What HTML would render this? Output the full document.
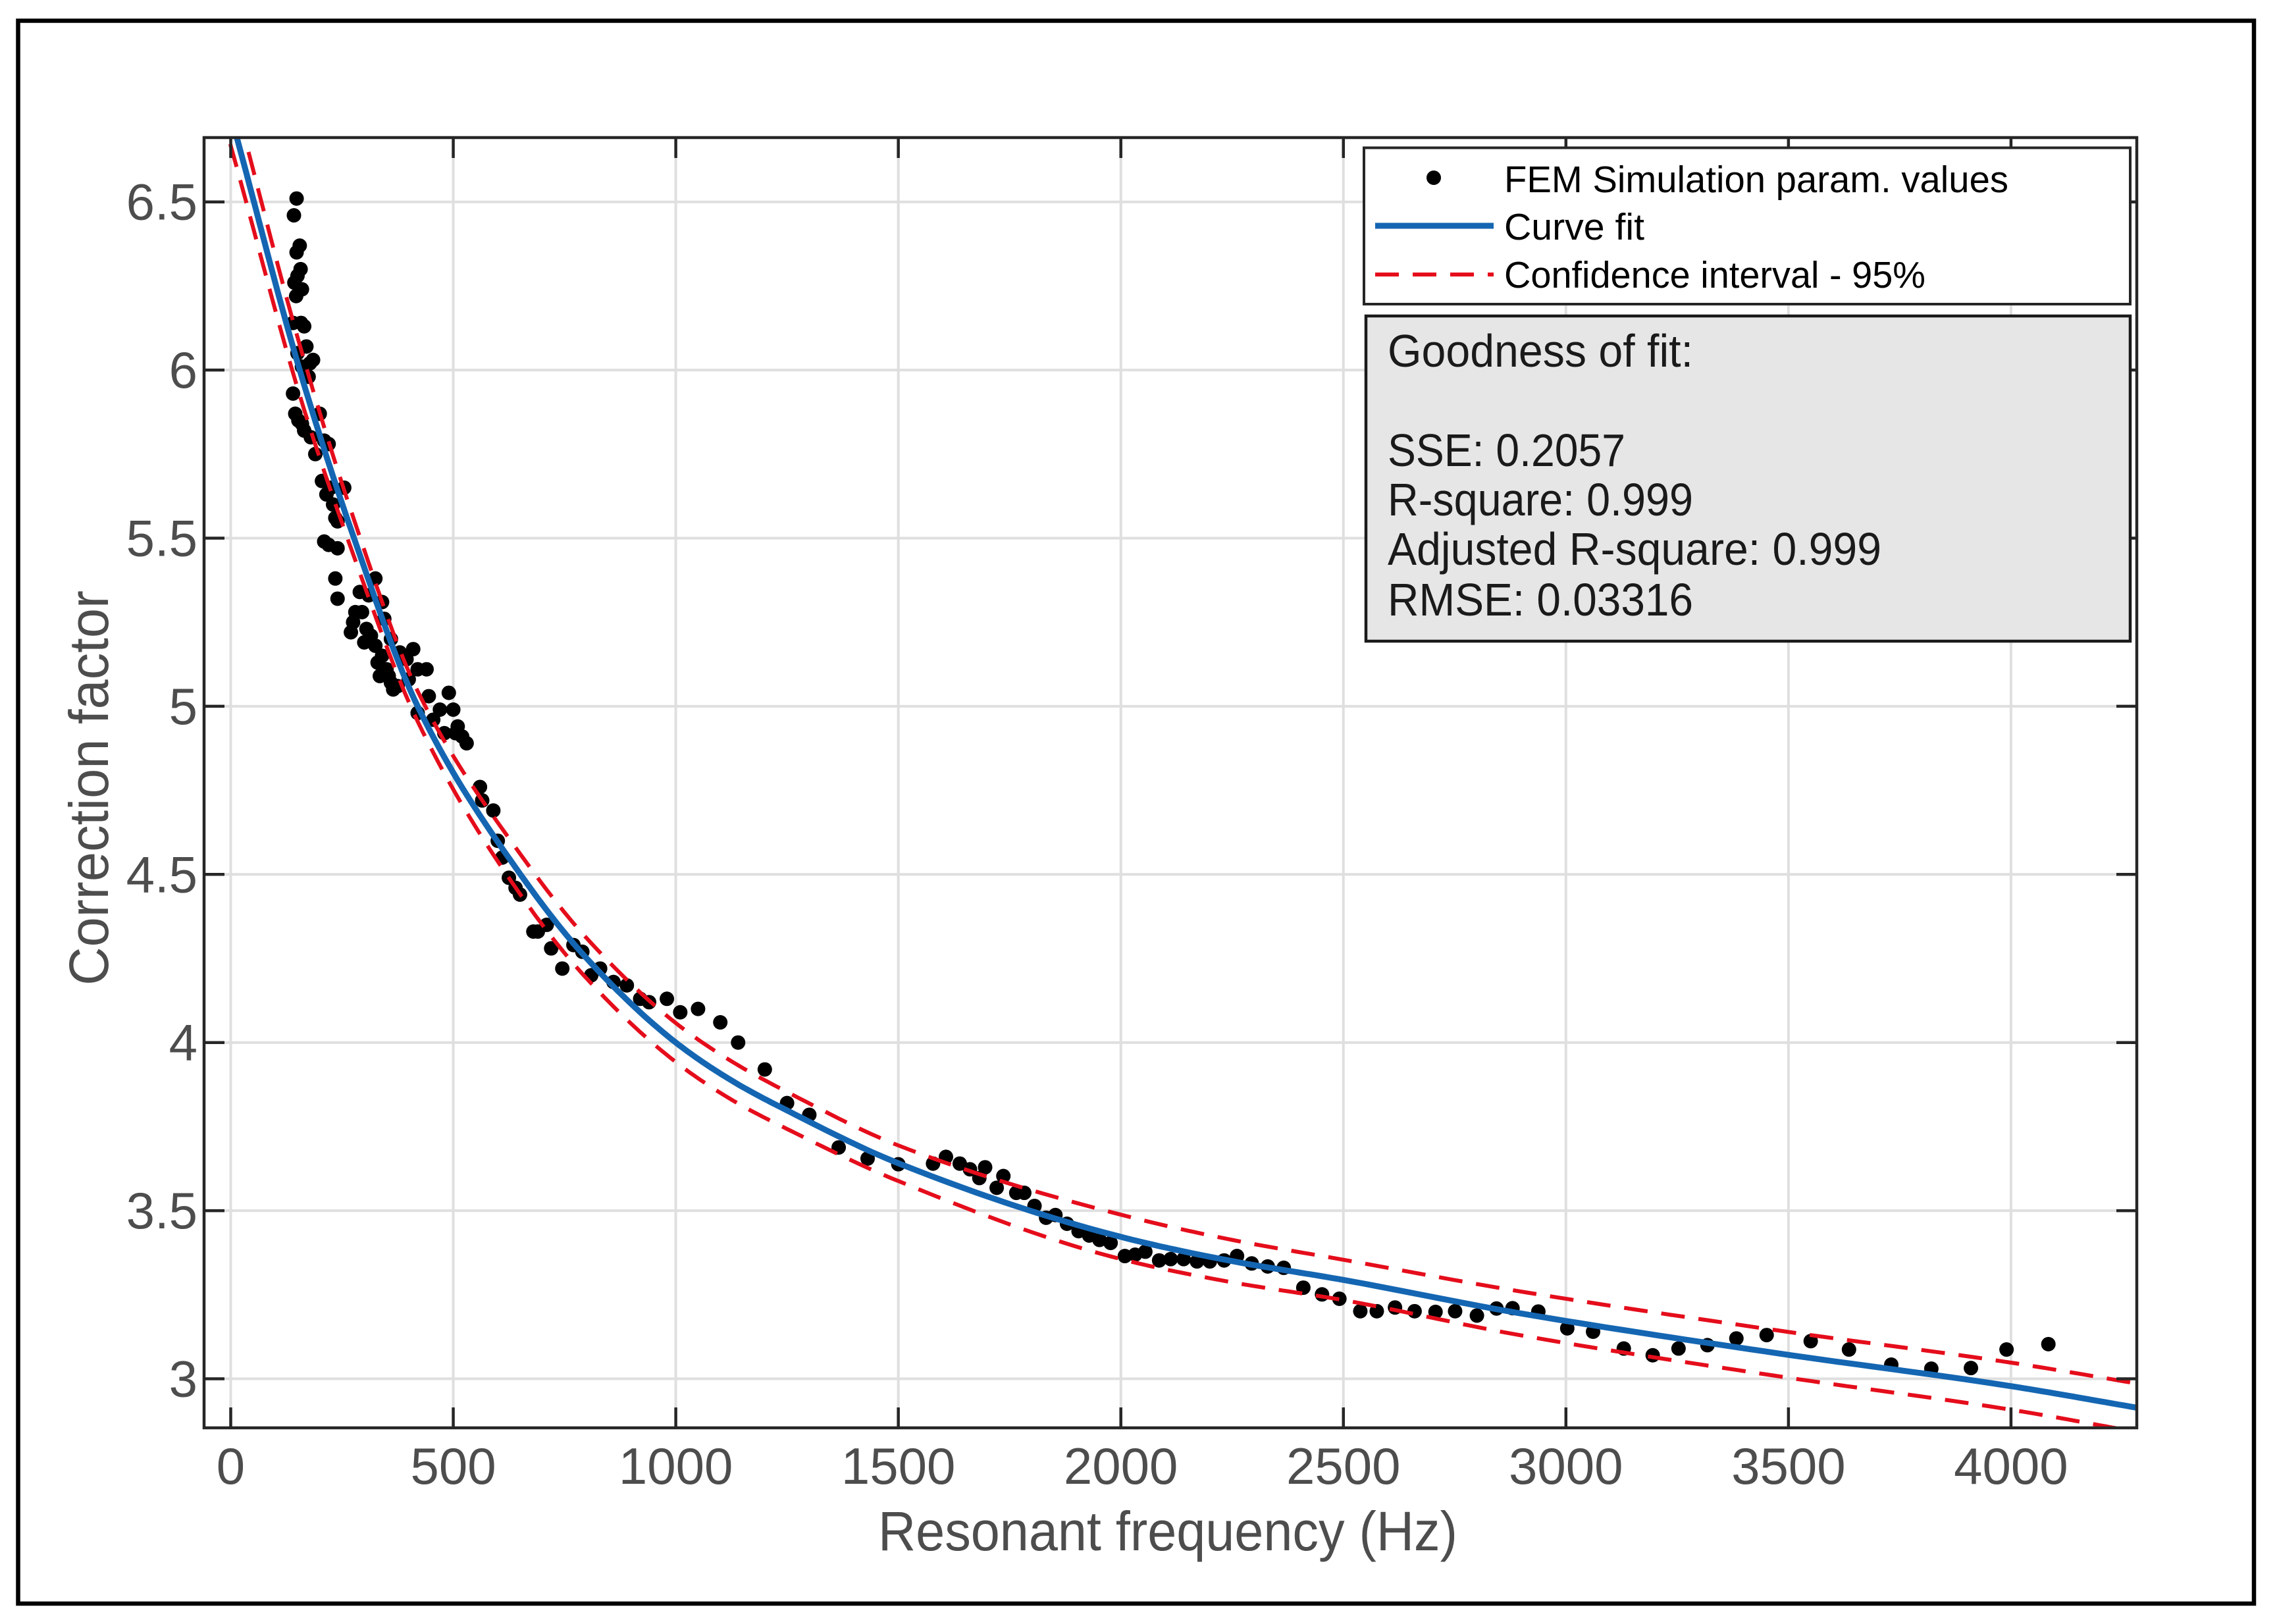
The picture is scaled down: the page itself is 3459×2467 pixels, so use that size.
<!DOCTYPE html>
<html><head><meta charset="utf-8"><style>
html,body{margin:0;padding:0;background:#fff;}
svg{display:block;font-family:"Liberation Sans",sans-serif;}
</style></head>
<body>
<svg id="chart" width="3459" height="2467" viewBox="0 0 3459 2467" xmlns="http://www.w3.org/2000/svg">
<rect x="0" y="0" width="3459" height="2467" fill="#fff"/>
<rect x="27.5" y="31.5" width="3396.5" height="2404.5" fill="none" stroke="#000" stroke-width="6.5"/>
<defs><clipPath id="plotclip"><rect x="310" y="209" width="2936" height="1960"/></clipPath></defs>
<g id="grid"></g>
<g id="series" clip-path="url(#plotclip)"></g>
<rect x="310" y="209" width="2936" height="1960" fill="none" stroke="#262626" stroke-width="4.5"/>
<g id="ticks"></g>
<text x="1774" y="2355" font-size="84" fill="#4d4d4d" text-anchor="middle" textLength="880" lengthAdjust="spacingAndGlyphs">Resonant frequency (Hz)</text>
<text x="0" y="0" font-size="84" fill="#4d4d4d" text-anchor="middle" transform="translate(164,1197) rotate(-90)" textLength="600" lengthAdjust="spacingAndGlyphs">Correction factor</text>
<g>
<rect x="2072" y="224.5" width="1164" height="237.5" fill="#fff" stroke="#262626" stroke-width="4"/>
<circle cx="2178" cy="270" r="11" fill="#000"/>
<text x="2285" y="292" font-size="57" fill="#000" textLength="766" lengthAdjust="spacingAndGlyphs">FEM Simulation param. values</text>
<line x1="2089" y1="343" x2="2269" y2="343" stroke="#1466b2" stroke-width="9"/>
<text x="2285" y="364" font-size="57" fill="#000" textLength="213" lengthAdjust="spacingAndGlyphs">Curve fit</text>
<line x1="2089" y1="417" x2="2269" y2="417" stroke="#e50d1b" stroke-width="6" stroke-dasharray="36,21"/>
<text x="2285" y="437" font-size="57" fill="#000" textLength="640" lengthAdjust="spacingAndGlyphs">Confidence interval - 95%</text>
</g>
<g>
<rect x="2075" y="480" width="1161" height="494" fill="#e6e6e6" stroke="#1a1a1a" stroke-width="4.5"/>
<text x="2108" y="557" font-size="70" fill="#1a1a1a" textLength="464" lengthAdjust="spacingAndGlyphs">Goodness of fit:</text>
<text x="2108" y="708" font-size="70" fill="#1a1a1a" textLength="361" lengthAdjust="spacingAndGlyphs">SSE: 0.2057</text>
<text x="2108" y="783" font-size="70" fill="#1a1a1a" textLength="464" lengthAdjust="spacingAndGlyphs">R-square: 0.999</text>
<text x="2108" y="858" font-size="70" fill="#1a1a1a" textLength="750" lengthAdjust="spacingAndGlyphs">Adjusted R-square: 0.999</text>
<text x="2108" y="935" font-size="70" fill="#1a1a1a" textLength="464" lengthAdjust="spacingAndGlyphs">RMSE: 0.03316</text>
</g>
</svg>
<script>
const xTicks = [0,500,1000,1500,2000,2500,3000,3500,4000];
const yTicks = [3,3.5,4,4.5,5,5.5,6,6.5];
const yTickLabels = ["3","3.5","4","4.5","5","5.5","6","6.5"];
const fitX = [14,155,277,420,651,800,1000,1128,1256,1500,2000,2250,2500,2883,3475,4000,4283];
const fitY = [6.69,6.0,5.5,5.0,4.5,4.25,4.0,3.885,3.794,3.641,3.422,3.35,3.294,3.198,3.076,2.978,2.914];
const ciUpper = [6.78,6.075,5.555,5.045,4.56,4.31,4.058,3.942,3.849,3.694,3.488,3.413,3.354,3.263,3.144,3.048,2.986];
const ciLower = [6.60,5.925,5.445,4.955,4.44,4.19,3.942,3.828,3.739,3.588,3.356,3.287,3.234,3.133,3.008,2.908,2.842];
const ptX = [148,142,148,155,143,150,157,147,160,140,158,165,150,170,178,185,160,175,140,145,152,160,165,180,190,200,210,220,205,215,225,230,235,240,255,210,220,240,235,240,270,275,280,290,295,305,300,315,325,330,335,340,350,355,360,365,375,310,325,340,345,360,380,395,410,420,400,440,420,445,455,470,480,490,500,510,520,530,505,
560,565,590,600,610,625,640,650,680,690,710,720,745,770,790,810,830,860,890,920,940,980,1010,1050,1100,1140,1200,1250,1300,1366,1431,1500,
1578,1607,1638,1661,1695,1682,1736,1721,1765,1783,1806,1853,1832,1879,1905,1929,1952,1977,2009,2032,2055,2086,2112,2141,2171,2200,2232,2261,2294,2330,2366,2410,2452,2491,2538,2575,2616,2660,2707,2751,2800,2844,
2880,2938,3003,3061,3130,3195,3253,3318,3383,3451,3550,3636,3731,3821,3910,3990,4084];
const ptY = [6.51,6.46,6.35,6.37,6.26,6.28,6.30,6.22,6.24,6.14,6.14,6.13,6.05,6.07,6.02,6.03,6.01,5.98,5.93,5.87,5.85,5.84,5.82,5.80,5.75,5.87,5.79,5.78,5.67,5.63,5.65,5.60,5.56,5.55,5.65,5.49,5.48,5.47,5.38,5.32,5.22,5.25,5.28,5.34,5.28,5.23,5.19,5.21,5.18,5.13,5.09,5.15,5.11,5.09,5.07,5.05,5.06,5.33,5.38,5.31,5.26,5.20,5.16,5.14,5.17,5.11,5.08,5.11,4.98,5.03,4.96,4.99,4.92,5.04,4.99,4.94,4.91,4.89,4.92,
4.76,4.72,4.69,4.60,4.55,4.49,4.46,4.44,4.33,4.33,4.35,4.28,4.22,4.29,4.27,4.20,4.22,4.18,4.17,4.13,4.12,4.13,4.09,4.10,4.06,4.00,3.92,3.82,3.785,3.688,3.655,3.638,
3.640,3.660,3.640,3.623,3.629,3.597,3.603,3.568,3.553,3.553,3.514,3.487,3.479,3.461,3.439,3.426,3.413,3.404,3.365,3.369,3.378,3.352,3.356,3.356,3.349,3.349,3.352,3.365,3.343,3.334,3.330,3.271,3.251,3.238,3.201,3.201,3.212,3.201,3.199,3.201,3.188,3.209,
3.21,3.20,3.15,3.14,3.09,3.07,3.09,3.10,3.12,3.13,3.112,3.087,3.042,3.030,3.032,3.087,3.103];

const NS = "http://www.w3.org/2000/svg";
const X = v => 350.5 + v * 0.6761;
const Y = v => 306.7 + (6.5 - v) * 510.8;
function mk(tag, attrs, parent){ const e=document.createElementNS(NS,tag); for(const k in attrs) e.setAttribute(k,attrs[k]); parent.appendChild(e); return e; }
const grid=document.getElementById('grid'), ticks=document.getElementById('ticks'), series=document.getElementById('series'), svg=document.getElementById('chart');

xTicks.forEach(t=>{
  const g=mk('line',{x1:X(t),x2:X(t),y1:209,y2:2169,stroke:'#dfdfdf','stroke-width':4},grid);
  
  
  const t1=mk('line',{x1:X(t),x2:X(t),y1:2169,y2:2138,stroke:'#262626','stroke-width':4.5},ticks);
  
  
  const t2=mk('line',{x1:X(t),x2:X(t),y1:209,y2:240,stroke:'#262626','stroke-width':4.5},ticks);
  
  
  const lb=mk('text',{x:X(t),y:2254,'font-size':78,fill:'#4d4d4d','text-anchor':'middle'},svg);
  lb.textContent=String(t);
  
  
});
yTicks.forEach((t,i)=>{
  const g=mk('line',{x1:310,x2:3246,y1:Y(t),y2:Y(t),stroke:'#dfdfdf','stroke-width':4},grid);
  
  
  const t1=mk('line',{x1:310,x2:341,y1:Y(t),y2:Y(t),stroke:'#262626','stroke-width':4.5},ticks);
  
  
  const t2=mk('line',{x1:3215,x2:3246,y1:Y(t),y2:Y(t),stroke:'#262626','stroke-width':4.5},ticks);
  
  
  const lb=mk('text',{x:300,y:Y(t)+27,'font-size':78,fill:'#4d4d4d','text-anchor':'end'},svg);
  lb.textContent=yTickLabels[i];
  
  
});

// monotone cubic (Fritsch-Carlson) interpolation in data space
function monotonePath(xs, ys){
  const n=xs.length, d=[], m=new Array(n);
  for(let i=0;i<n-1;i++) d.push((ys[i+1]-ys[i])/(xs[i+1]-xs[i]));
  m[0]=d[0]; m[n-1]=d[n-2];
  for(let i=1;i<n-1;i++){
    if(d[i-1]*d[i]<=0) m[i]=0;
    else { const w1=2*(xs[i+1]-xs[i])+(xs[i]-xs[i-1]), w2=(xs[i+1]-xs[i])+2*(xs[i]-xs[i-1]); m[i]=(w1+w2)/(w1/d[i-1]+w2/d[i]); }
  }
  const pts=[];
  const x0=xs[0]-60; pts.push([X(x0),Y(ys[0]+m[0]*(x0-xs[0]))]);
  for(let i=0;i<n-1;i++){
    const h=xs[i+1]-xs[i];
    for(let k=0;k<20;k++){
      const t=k/20, t2=t*t, t3=t2*t;
      const y=(2*t3-3*t2+1)*ys[i]+(t3-2*t2+t)*h*m[i]+(-2*t3+3*t2)*ys[i+1]+(t3-t2)*h*m[i+1];
      pts.push([X(xs[i]+t*h),Y(y)]);
    }
  }
  pts.push([X(xs[n-1]),Y(ys[n-1])]);
  const x1=xs[n-1]+60; pts.push([X(x1),Y(ys[n-1]+m[n-1]*(x1-xs[n-1]))]);
  return 'M'+pts.map(p=>p[0].toFixed(1)+','+p[1].toFixed(1)).join(' L');
}
ptX.forEach((x,i)=>{
  const c=mk('circle',{cx:X(x),cy:Y(ptY[i]),r:11,fill:'#000'},series);
  
  
});
const fit=mk('path',{d:monotonePath(fitX,fitY),fill:'none',stroke:'#1466b2','stroke-width':9,'stroke-linejoin':'round'},series);


const up=mk('path',{d:monotonePath(fitX,ciUpper),fill:'none',stroke:'#e50d1b','stroke-width':6,'stroke-dasharray':'36,21'},series);


const lo=mk('path',{d:monotonePath(fitX,ciLower),fill:'none',stroke:'#e50d1b','stroke-width':6,'stroke-dasharray':'36,21'},series);


</script>
</body></html>
